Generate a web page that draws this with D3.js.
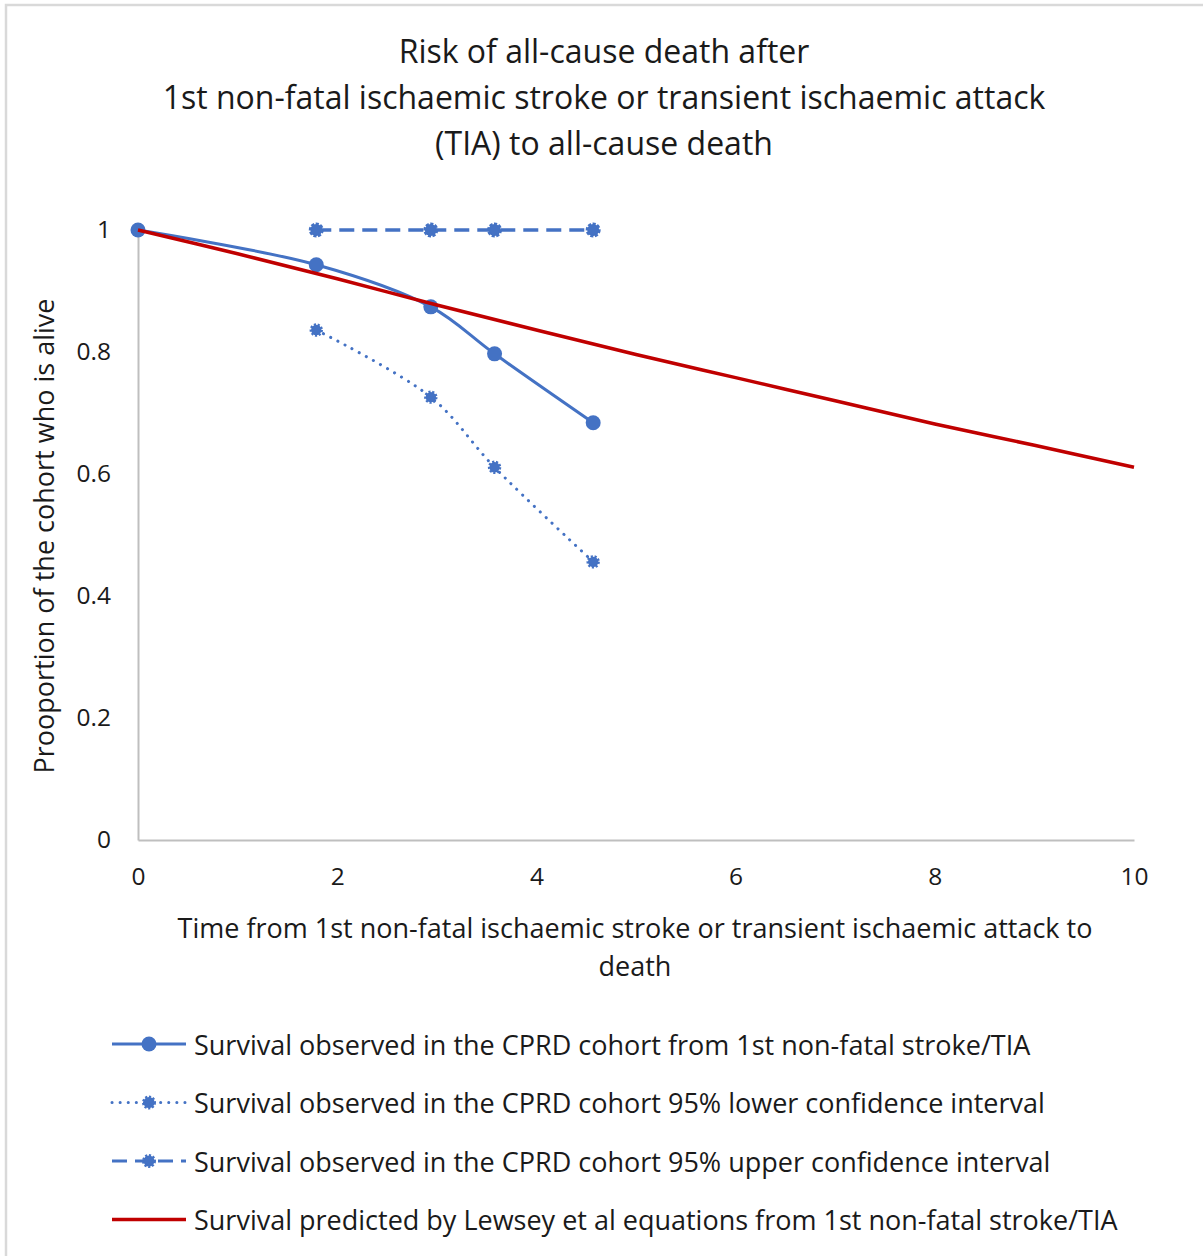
<!DOCTYPE html>
<html>
<head>
<meta charset="utf-8">
<script src="https://cdn.jsdelivr.net/npm/d3@7"></script>
<style>
  body { margin: 0; background: #fff; }
  svg text { font-family: "Open Sans", Lato, sans-serif; fill: #1a1a1a; }
</style>
</head>
<body>
<svg width="1203" height="1256"></svg>
<script>
// values
var titleLines = ["Risk of all-cause death after",
  "1st non-fatal ischaemic stroke or transient ischaemic attack",
  "(TIA) to all-cause death"];
var xTitleLines = ["Time from 1st non-fatal ischaemic stroke or transient ischaemic attack to", "death"];
var yTitle = "Prooportion of the cohort who is alive";

var xTicks = [0, 2, 4, 6, 8, 10];
var yTicks = [0, 0.2, 0.4, 0.6, 0.8, 1];

var observedX = [0, 1.79, 2.94, 3.58, 4.57];
var observedY = [1, 0.943, 0.874, 0.797, 0.684];

var ciX = [1.79, 2.94, 3.58, 4.57];
var lowerY = [0.836, 0.726, 0.611, 0.456];
var upperY = [1, 1, 1, 1];

var predictedX = [0, 1, 2, 3, 4, 5, 6, 7, 8, 9, 10];
var predictedY = [1, 0.961, 0.920, 0.877, 0.836, 0.796, 0.758, 0.720, 0.682, 0.647, 0.611];

var legendNames = [
  "Survival observed in the CPRD cohort from 1st non-fatal stroke/TIA",
  "Survival observed in the CPRD cohort 95% lower confidence interval",
  "Survival observed in the CPRD cohort 95% upper confidence interval",
  "Survival predicted by Lewsey et al equations from 1st non-fatal stroke/TIA"];

var blue = "#4472C4", red = "#C00000", grey = "#BFBFBF";

var svg = d3.select("svg");

// chart border
svg.append("rect")
  .attr("x", 6).attr("y", 5)
  .attr("width", 1220).attr("height", 1280)
  .attr("fill", "none")
  .attr("stroke", "#D9D9D9")
  .attr("stroke-width", 2.5);

var x = d3.scaleLinear().domain([0, 10]).range([138, 1134]);
var y = d3.scaleLinear().domain([0, 1]).range([840, 230]);

// title
svg.append("g").selectAll("text")
  .data(titleLines)
  .enter().append("text")
  .attr("x", 604)
  .attr("y", function(d, i) { return 50 + i * 46; })
  .attr("text-anchor", "middle")
  .attr("dominant-baseline", "central")
  .style("font-size", "32px")
  .text(function(d) { return d; });

// axes
var xAxis = svg.append("g")
  .attr("transform", "translate(0," + y(0) + ")")
  .call(d3.axisBottom(x).tickValues(xTicks).tickSize(0).tickPadding(28));
var yAxis = svg.append("g")
  .attr("transform", "translate(" + x(0) + ",0)")
  .call(d3.axisLeft(y).tickValues(yTicks).tickSize(0).tickPadding(27).tickFormat(d3.format("~g")));

[xAxis, yAxis].forEach(function(a) {
  a.select(".domain").attr("stroke", grey).attr("stroke-width", 2);
  a.selectAll("text").style("font-size", "24.5px").attr("fill", "#1a1a1a");
});

// axis titles
svg.append("g").selectAll("text")
  .data(xTitleLines)
  .enter().append("text")
  .attr("x", 635)
  .attr("y", function(d, i) { return 927 + i * 38; })
  .attr("text-anchor", "middle")
  .attr("dominant-baseline", "central")
  .style("font-size", "27px")
  .text(function(d) { return d; });

svg.append("text")
  .attr("transform", "translate(43,536) rotate(-90)")
  .attr("text-anchor", "middle")
  .attr("dominant-baseline", "central")
  .style("font-size", "27px")
  .text(yTitle);

function pts(xs, ys) {
  return xs.map(function(d, i) { return [d, ys[i]]; });
}

var smooth = d3.line()
  .x(function(d) { return x(d[0]); })
  .y(function(d) { return y(d[1]); })
  .curve(d3.curveCatmullRom.alpha(0.5));
var straight = d3.line()
  .x(function(d) { return x(d[0]); })
  .y(function(d) { return y(d[1]); });

var plot = svg.append("g");

// observed
plot.append("path")
  .attr("d", smooth(pts(observedX, observedY)))
  .attr("fill", "none").attr("stroke", blue).attr("stroke-width", 3);
plot.selectAll("circle.obs")
  .data(pts(observedX, observedY))
  .enter().append("circle")
  .attr("class", "obs")
  .attr("cx", function(d) { return x(d[0]); })
  .attr("cy", function(d) { return y(d[1]); })
  .attr("r", 7.5)
  .attr("fill", blue);

// lower CI
plot.append("path")
  .attr("d", smooth(pts(ciX, lowerY)))
  .attr("fill", "none").attr("stroke", blue).attr("stroke-width", 3)
  .attr("stroke-linecap", "round")
  .attr("stroke-dasharray", "0.1,8");
plot.selectAll("circle.low")
  .data(pts(ciX, lowerY))
  .enter().append("circle")
  .attr("class", "low")
  .attr("cx", function(d) { return x(d[0]); })
  .attr("cy", function(d) { return y(d[1]); })
  .attr("r", 5.2)
  .attr("fill", blue)
  .attr("stroke", blue).attr("stroke-width", 3)
  .attr("stroke-dasharray", "2,1.6");

// upper CI
plot.append("path")
  .attr("d", straight(pts(ciX, upperY)))
  .attr("fill", "none").attr("stroke", blue).attr("stroke-width", 3.5)
  .attr("stroke-dasharray", "15,8");
plot.selectAll("circle.up")
  .data(pts(ciX, upperY))
  .enter().append("circle")
  .attr("class", "up")
  .attr("cx", function(d) { return x(d[0]); })
  .attr("cy", function(d) { return y(d[1]); })
  .attr("r", 6)
  .attr("fill", blue)
  .attr("stroke", blue).attr("stroke-width", 3)
  .attr("stroke-dasharray", "3,1.5");

// predicted
plot.append("path")
  .attr("d", smooth(pts(predictedX, predictedY)))
  .attr("fill", "none").attr("stroke", red).attr("stroke-width", 3.5);

// legend
var legend = svg.append("g").selectAll("g")
  .data(legendNames)
  .enter().append("g")
  .attr("transform", function(d, i) { return "translate(112," + (1044 + i * 58.5) + ")"; });

legend.append("line")
  .attr("x1", 0).attr("x2", 74)
  .attr("stroke", function(d, i) { return i == 3 ? red : blue; })
  .attr("stroke-width", function(d, i) { return i == 3 ? 3.5 : 3; })
  .attr("stroke-linecap", function(d, i) { return i == 1 ? "round" : "butt"; })
  .attr("stroke-dasharray", function(d, i) { return i == 1 ? "0.1,8" : (i == 2 ? "15,8" : null); });

legend.filter(function(d, i) { return i < 3; })
  .append("circle")
  .attr("cx", 37)
  .attr("r", function(d, i) { return i == 0 ? 7.5 : 5.5; })
  .attr("fill", blue)
  .attr("stroke", blue)
  .attr("stroke-width", function(d, i) { return i == 0 ? 0 : 3; })
  .attr("stroke-dasharray", function(d, i) { return i == 0 ? null : "2,1.6"; });

legend.append("text")
  .attr("x", 82)
  .attr("dominant-baseline", "central")
  .style("font-size", "27px")
  .text(function(d) { return d; });
</script>
</body>
</html>
